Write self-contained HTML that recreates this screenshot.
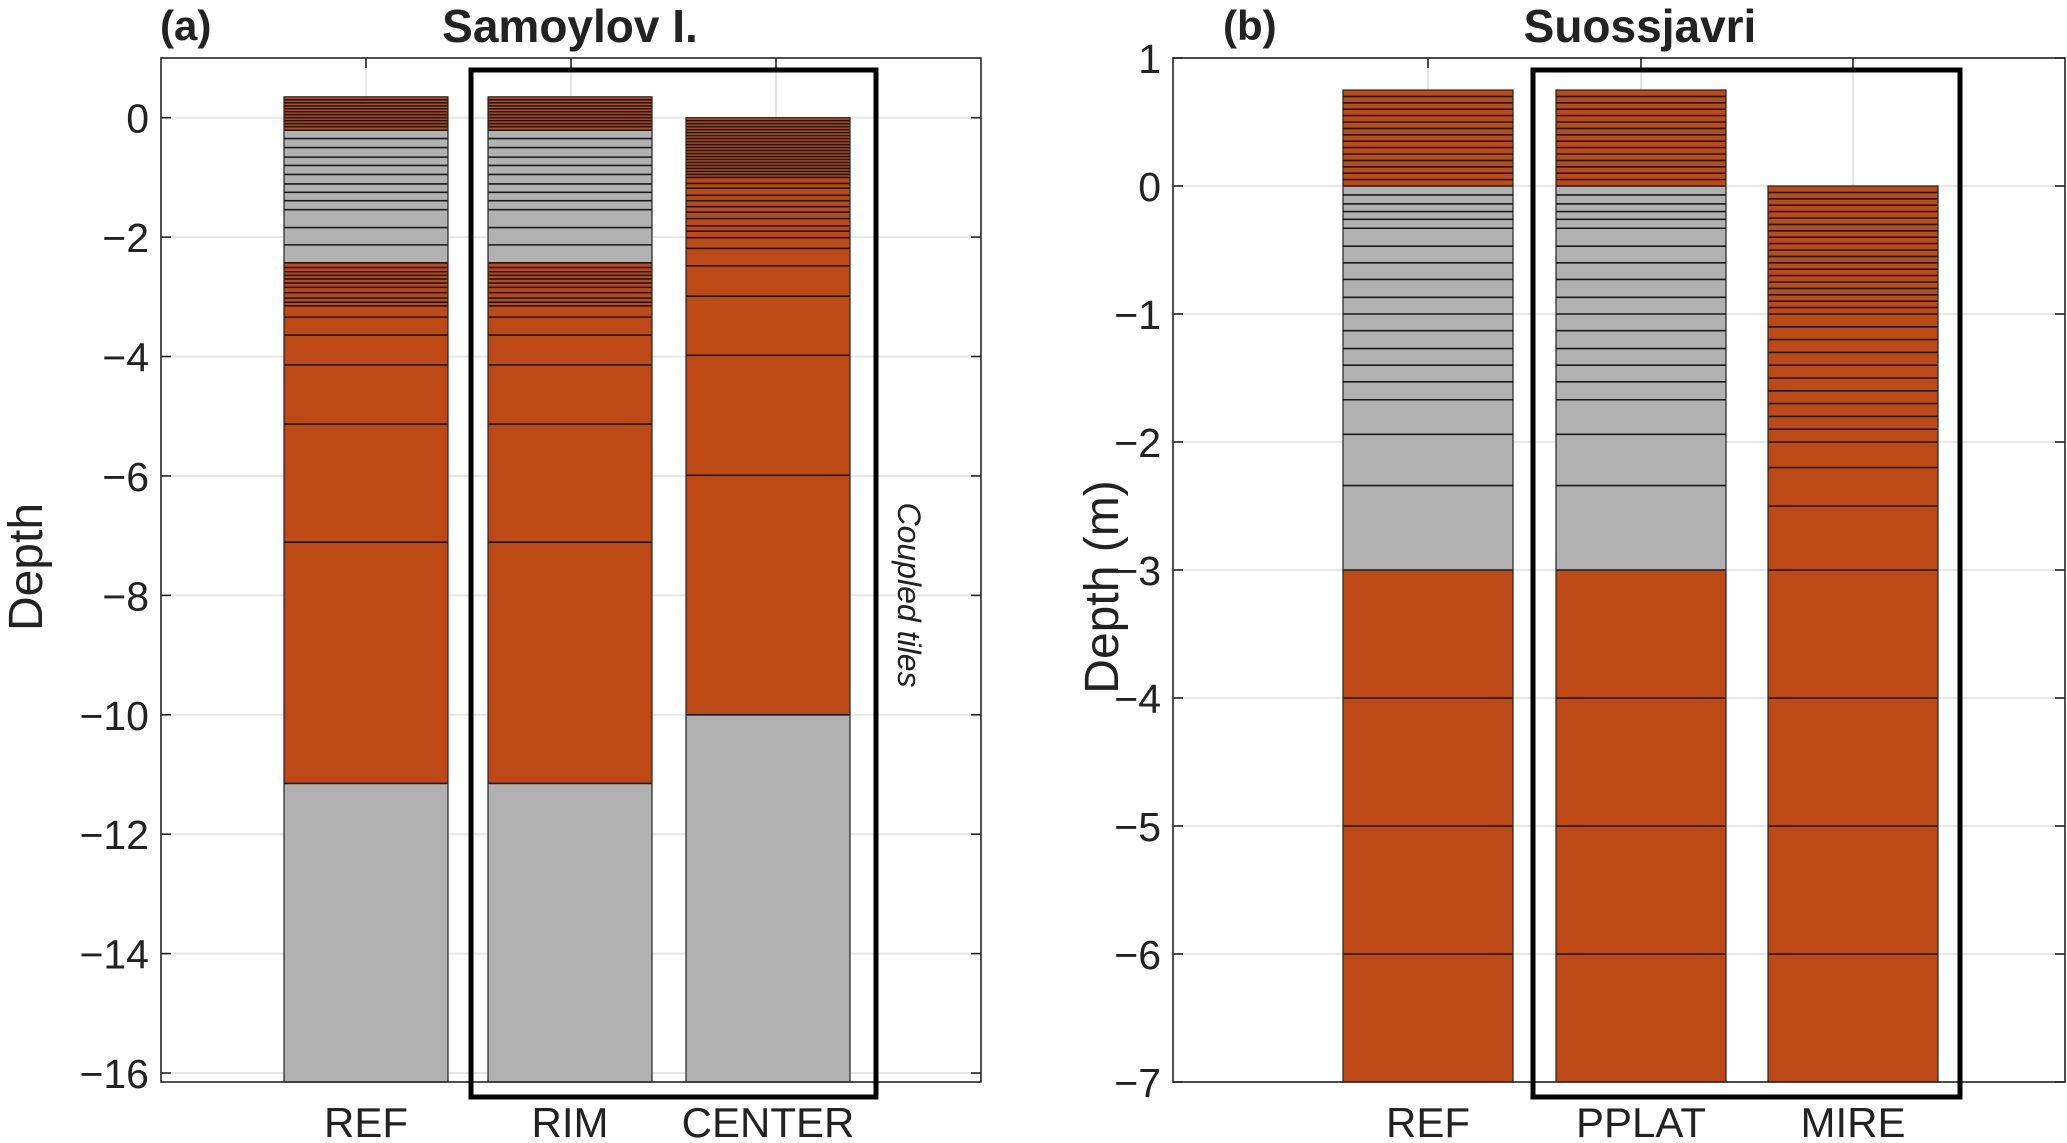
<!DOCTYPE html>
<html><head><meta charset="utf-8"><style>
html,body{margin:0;padding:0;background:#fff;}
svg{display:block;}
text{font-family:"Liberation Sans Narrow","Liberation Sans",sans-serif;fill:#222;}
</style></head><body>
<svg id="chart" width="2067" height="1143" viewBox="0 0 2067 1143" xmlns="http://www.w3.org/2000/svg"></svg>
<script>
// ---- Panel (a) Samoylov I. data ----
const catsA = ["REF","RIM","CENTER"];
const ticksA = [0,-2,-4,-6,-8,-10,-12,-14,-16];
const refA_bounds = [0.35,0.30,0.25,0.20,0.15,0.10,0.05,0.0,-0.05,-0.10,-0.15,-0.21,-0.35,-0.50,-0.66,-0.80,-0.95,-1.11,-1.25,-1.39,-1.54,-1.84,-2.13,-2.43,-2.51,-2.58,-2.64,-2.70,-2.77,-2.84,-2.93,-3.02,-3.09,-3.15,-3.34,-3.64,-4.14,-5.13,-7.11,-11.15,-16.15];
const refA_orgTop = [0.35,-2.43];
const refA_orgBot = [-0.21,-11.15];
const rimA_bounds = refA_bounds.slice();
const rimA_orgTop = [0.35,-2.43];
const rimA_orgBot = [-0.21,-11.15];
const cenA_bounds = [0,-0.05,-0.1,-0.15,-0.2,-0.25,-0.3,-0.35,-0.4,-0.45,-0.5,-0.55,-0.6,-0.65,-0.7,-0.75,-0.8,-0.85,-0.9,-0.95,-1.0,-1.1,-1.18,-1.30,-1.39,-1.49,-1.58,-1.69,-1.81,-1.90,-2.01,-2.19,-2.48,-2.99,-3.98,-5.99,-10.0,-16.15];
const cenA_orgTop = [0];
const cenA_orgBot = [-10.0];

// ---- Panel (b) Suossjavri data ----
const catsB = ["REF","PPLAT","MIRE"];
const ticksB = [1,0,-1,-2,-3,-4,-5,-6,-7];
const refB_bounds = [0.75,0.70,0.65,0.60,0.55,0.50,0.45,0.40,0.35,0.30,0.25,0.20,0.15,0.10,0.05,0,-0.07,-0.14,-0.20,-0.26,-0.33,-0.47,-0.60,-0.73,-0.87,-1.0,-1.13,-1.27,-1.40,-1.53,-1.67,-1.94,-2.34,-3.0,-4,-5,-6,-7];
const refB_orgTop = [0.75,-3.0];
const refB_orgBot = [0,-7];
const ppB_bounds = refB_bounds.slice();
const ppB_orgTop = [0.75,-3.0];
const ppB_orgBot = [0,-7];
const mireB_bounds = [0,-0.05,-0.1,-0.15,-0.2,-0.25,-0.3,-0.35,-0.4,-0.45,-0.5,-0.55,-0.6,-0.65,-0.7,-0.75,-0.8,-0.85,-0.9,-0.95,-1.0,-1.1,-1.2,-1.3,-1.4,-1.5,-1.6,-1.7,-1.8,-1.9,-2.0,-2.2,-2.5,-3.0,-4,-5,-6,-7];
const mireB_orgTop = [0];
const mireB_orgBot = [-7];

const svg = document.getElementById('chart');
const NS = 'http://www.w3.org/2000/svg';
function mk(tag, attrs, parent){const e=document.createElementNS(NS,tag);for(const k in attrs)e.setAttribute(k,attrs[k]);(parent||svg).appendChild(e);return e;}

function panel(cfg){
  const g = mk('g',{});
  
  
  const {L,R,T,B,ymin,ymax,cx} = cfg;
  const y = v => T + (ymax - v) / (ymax - ymin) * (B - T);
  const x = i => cx[i];
  cfg.ticks.forEach(t=>{
    const gl=mk('line',{x1:L,x2:R,y1:y(t),y2:y(t),stroke:'#e6e6e6','stroke-width':2},g);
    
    
  });
  cfg.cats.forEach((c,i)=>{
    const gl=mk('line',{x1:cfg.gx[i],x2:cfg.gx[i],y1:T,y2:B,stroke:'#e6e6e6','stroke-width':2},g);
    
    
  });
  const bw = cfg.bw;
  cfg.cols.forEach((col,i)=>{
    const bg = mk('g',{},g);
    
    
    const b = col.bounds;
    const x0 = x(i)-bw/2;
    mk('rect',{x:x0,y:y(b[0]),width:bw,height:y(b[b.length-1])-y(b[0]),fill:'#b1b1b1'},bg);
    col.orgTop.forEach((tp,k)=>{
      const r=mk('rect',{x:x0,y:y(tp),width:bw,height:y(col.orgBot[k])-y(tp),fill:'#bd4a16'},bg);
      
      
    });
    b.forEach((v,k)=>{
      if(k===0||k===b.length-1) return;
      mk('line',{x1:x0,x2:x0+bw,y1:y(v),y2:y(v),stroke:'#1a1a1a','stroke-width':1.6},bg);
    });
    mk('rect',{x:x0,y:y(b[0]),width:bw,height:y(b[b.length-1])-y(b[0]),fill:'none',stroke:'#222','stroke-width':1.2},bg);
    const tl=mk('text',{x:x(i),y:1137,'text-anchor':'middle','font-size':42},g);
    tl.textContent=cfg.cats[i];
    
    
  });
  mk('rect',{x:L,y:T,width:R-L,height:B-T,fill:'none',stroke:'#262626','stroke-width':1.6},g);
  cfg.ticks.forEach(t=>{
    mk('line',{x1:L,x2:L+10,y1:y(t),y2:y(t),stroke:'#262626','stroke-width':1.6},g);
    mk('line',{x1:R-10,x2:R,y1:y(t),y2:y(t),stroke:'#262626','stroke-width':1.6},g);
    const tx=mk('text',{x:L-12,y:y(t)+15,'text-anchor':'end','font-size':41},g);
    tx.textContent=(t<0?'\u2212'+(-t):String(t));
    
    
  });
  cfg.gx.forEach(gx=>{
    mk('line',{x1:gx,x2:gx,y1:T,y2:T+10,stroke:'#262626','stroke-width':1.6},g);
  });
  const cb=mk('rect',{x:cfg.box[0],y:cfg.box[1],width:cfg.box[2]-cfg.box[0],height:cfg.box[3]-cfg.box[1],fill:'none',stroke:'#000','stroke-width':5},g);
  
  
  const tt=mk('text',{x:cfg.titleX,y:42,'text-anchor':'middle','font-size':46,'font-weight':'bold'},g);
  tt.textContent=cfg.title;
  
  
  tt.setAttribute('fill','#000');
  const pl=mk('text',{x:cfg.labelX,y:40,'font-size':42,'font-weight':'bold'},g);
  pl.textContent=cfg.label;
  
  
  const yl=mk('text',{x:0,y:0,'text-anchor':'middle','font-size':48,transform:'translate('+cfg.ylabX+','+cfg.ylabY+') rotate(-90)'},g);
  yl.textContent=cfg.ylabel;
  
  
  return {g,y,x};
}

const A = panel({name:'panel-a-samoylov',L:161,R:981,T:58,B:1082,ymin:-16.15,ymax:1,cx:[366,570,768],gx:[366,571,776],bw:164,
  cats:catsA,ticks:ticksA,title:'Samoylov I.',titleX:570,label:'(a)',labelX:160,ylabel:'Depth',ylabX:42,ylabY:567,
  box:[471,70,876,1097],
  cols:[{bounds:refA_bounds,orgTop:refA_orgTop,orgBot:refA_orgBot},{bounds:rimA_bounds,orgTop:rimA_orgTop,orgBot:rimA_orgBot},{bounds:cenA_bounds,orgTop:cenA_orgTop,orgBot:cenA_orgBot}]});
const ct=mk('text',{x:0,y:0,'text-anchor':'middle','font-size':32,'font-style':'italic',transform:'translate(898,595) rotate(90)'});
ct.textContent='Coupled tiles';



const Bp = panel({name:'panel-b-suossjavri',L:1173,R:2065,T:58,B:1082,ymin:-7,ymax:1,cx:[1428,1641,1853],gx:[1428,1641,1853],bw:170,
  cats:catsB,ticks:ticksB,title:'Suossjavri',titleX:1640,label:'(b)',labelX:1223,ylabel:'Depth (m)',ylabX:1118,ylabY:587,
  box:[1533,70,1960,1097],
  cols:[{bounds:refB_bounds,orgTop:refB_orgTop,orgBot:refB_orgBot},{bounds:ppB_bounds,orgTop:ppB_orgTop,orgBot:ppB_orgBot},{bounds:mireB_bounds,orgTop:mireB_orgTop,orgBot:mireB_orgBot}]});
</script>
</body></html>
